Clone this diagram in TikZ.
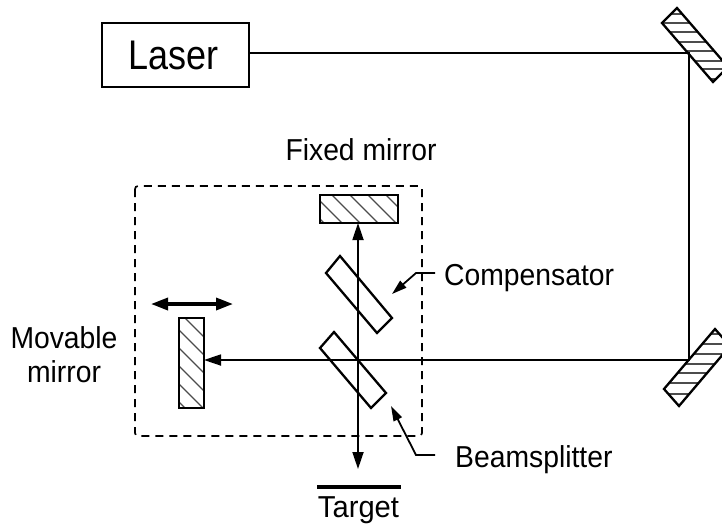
\documentclass[tikz,border=0pt]{standalone}
\usepackage{fontspec}
\usepackage{graphicx}
\setmainfont{Liberation Sans}
\usetikzlibrary{arrows.meta}
\newcommand{\talltext}[1]{\scalebox{1}[1.07]{#1}}
\tikzset{
  beam/.style={line width=1.8pt,black},
  arrowbeam/.style={beam,-{Triangle[length=17pt,width=11pt]}},
  leader/.style={line width=1.8pt,black,-{Triangle[length=15pt,width=9pt]}},
  plate/.style={line width=2.3pt,black,line join=miter},
  hatchline/.style={line width=1.3pt,black!70},
  lbl/.style={inner sep=0pt,font=\fontsize{28.3}{34}\selectfont,align=center},
  boxed/.style={draw,line width=2.2pt,minimum width=147pt,minimum height=64pt,inner sep=0pt,font=\fontsize{36}{40}\selectfont}
}
\begin{document}
\begin{tikzpicture}[x=1pt,y=-1pt]
\useasboundingbox (0,0) rectangle (722,523);
\clip (0,0) rectangle (722,523);
% named points
\node[boxed] (laser) at (175.5,55) {\kern-4pt\scalebox{1}[1.15]{Laser}};
\coordinate (turnA) at (689,53);
\coordinate (turnB) at (689,360);
\coordinate (cross) at (358,360);
\coordinate (fixedface) at (358,223);
\coordinate (movface) at (204,360);
\coordinate (outend) at (358,469);
% dashed enclosure
\draw[line width=1.7pt,dash pattern=on 8pt off 6pt,rounded corners=3pt] (135,186) rectangle (422,436);
% top mirror
\begin{scope}
\clip (677,8) -- (662,23) -- (713,82) -- (728,67) -- cycle;
\foreach \y in {14,23,32,42,51,61,69,79}{\draw[hatchline] (655,\y) -- (730,\y);}
\end{scope}
\draw[plate] (677,8) -- (662,23) -- (713,82) -- (728,67) -- cycle;
% bottom mirror
\begin{scope}
\clip (715,329) -- (664,389) -- (679,406) -- (730,346) -- cycle;
\foreach \y in {334,344,354,364,373,383,394}{\draw[hatchline] (655,\y) -- (730,\y);}
\end{scope}
\draw[plate] (715,329) -- (664,389) -- (679,406) -- (730,346) -- cycle;
% fixed mirror
\begin{scope}
\clip (320,195) rectangle (398,223);
\foreach \x in {296,314,332,350,368,386}{\draw[hatchline] (\x,195) -- (\x+28,223);}
\end{scope}
\draw[plate] (320,195) rectangle (398,223);
% movable mirror
\begin{scope}
\clip (179,318) rectangle (204,408);
\foreach \y in {294,312,330,348,366,384,402}{\draw[hatchline] (179,\y) -- (204,\y+25);}
\end{scope}
\draw[plate] (179,318) rectangle (204,408);
% plates
\draw[plate] (340,256) -- (326,273) -- (377,333) -- (392,318) -- cycle;
\draw[plate] (334,332) -- (320,348) -- (371,408) -- (386,393) -- cycle;
% beams
\draw[beam,line join=miter] (laser.east |- turnA) -- (turnA) -- (turnB) -- (cross);
\draw[arrowbeam] (turnB) -- (movface);
\draw[arrowbeam] (cross) -- (fixedface);
\draw[arrowbeam] (cross) -- (outend);
% motion arrow
\coordinate (moveL) at (151,304);
\coordinate (moveR) at (233,304);
\draw[line width=3.4pt,{Triangle[length=17pt,width=12pt]}-{Triangle[length=17pt,width=12pt]}] (moveL) -- (moveR);
% leaders
\coordinate (compS) at (435,273);
\coordinate (compK) at (416,273);
\coordinate (compE) at (392,294);
\coordinate (beamS) at (435,455);
\coordinate (beamK) at (416,455);
\coordinate (beamE) at (391,406);
\draw[leader,line join=miter] (compS) -- (compK) -- (compE);
\draw[leader,line join=miter] (beamS) -- (beamK) -- (beamE);
% target bar
\coordinate (tgtL) at (317,487);
\coordinate (tgtR) at (401,487);
\draw[line width=4.5pt] (tgtL) -- (tgtR);
% labels
\node[lbl,anchor=base] (lfixed) at (361,160) {\talltext{Fixed mirror}};
\node[lbl,anchor=base west] (lcomp) at (444,285) {\talltext{Compensator}};
\node[lbl,anchor=base west] (lbeam) at (455,467) {\talltext{Beamsplitter}};
\node[lbl] (lmov) at (64,355) {\talltext{Movable}\\\talltext{mirror}};
\node[lbl,anchor=base] (ltarget) at (358.5,517) {\scalebox{1.03}[1.07]{Target}};
\end{tikzpicture}
\end{document}
